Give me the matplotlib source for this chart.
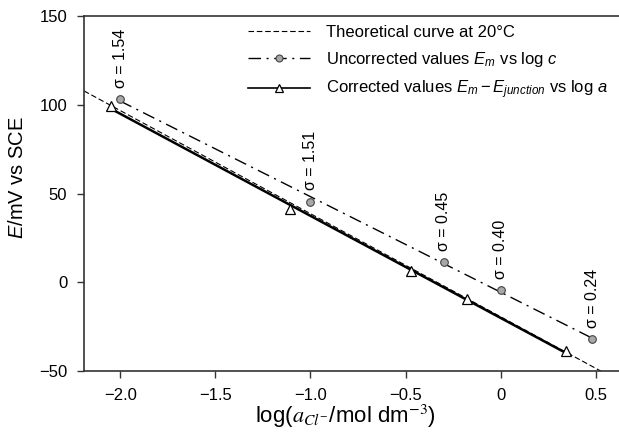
import numpy as np
import matplotlib
matplotlib.use("Agg")
import matplotlib.pyplot as plt
from matplotlib.lines import Line2D

plt.rcParams['font.family'] = ['Liberation Sans', 'DejaVu Sans']
plt.rcParams['mathtext.fontset'] = 'custom'
plt.rcParams['mathtext.rm'] = 'Liberation Sans'
plt.rcParams['mathtext.it'] = 'Liberation Sans:italic'

# uncorrected values E_m vs log c
logc = [-2.0, -1.0, -0.30, 0.0, 0.48]
E_unc = [103.5, 45.6, 11.4, -4.5, -31.7]
sigma = ["1.54", "1.51", "0.45", "0.40", "0.24"]

# corrected values E_m - E_junction vs log a
loga = [-2.05, -1.11, -0.47, -0.18, 0.34]
E_cor = [99.6, 41.4, 6.7, -9.6, -38.6]

# theoretical curve at 20 C (end points)
x_th = [-2.19, 0.62]
E_th = [108.0, -55.5]

fig = plt.figure(figsize=(6.19, 4.33), dpi=100)
ax = fig.add_axes([0.1357, 0.143, 0.864, 0.819])
spine_c = '#333333'

ax.plot(x_th, E_th, ls=(0, (5, 2.5)), color='black', lw=0.8)

# straight lines fitted through each series
p1 = np.polyfit(logc, E_unc, 1)
xs1 = np.array([logc[0], logc[-1]])
ax.plot(xs1, np.polyval(p1, xs1), ls=(0, (9, 4, 1.5, 4)), color='black', lw=1.0)
ax.plot(logc, E_unc, 'o', ms=5.5, mfc='#a8a8a8', mec='#444444', mew=0.8)

p2 = np.polyfit(loga, E_cor, 1)
xs2 = np.array([loga[0], loga[-1]])
ax.plot(xs2, np.polyval(p2, xs2), '-', color='black', lw=1.8)
ax.plot(loga, E_cor, '^', ms=7, mfc='white', mec='black', mew=0.9)

for xi, yi, s in zip(logc, E_unc, sigma):
    ax.annotate("σ = " + s, (xi, yi), xytext=(0, 8), textcoords='offset points',
                rotation=90, ha='center', va='bottom', fontsize=11.5)

ax.set_xlim(-2.19, 0.62)
ax.set_ylim(-50, 150)
ax.set_xticks([-2.0, -1.5, -1.0, -0.5, 0, 0.5])
ax.set_xticklabels(["\u22122.0", "\u22121.5", "\u22121.0", "\u22120.5", "0", "0.5"])
ax.set_yticks([-50, 0, 50, 100, 150])
ax.set_yticklabels(["\u221250", "0", "50", "100", "150"])
ax.tick_params(direction='out', length=5, width=1, color=spine_c, labelsize=12, pad=7)
ax.spines['right'].set_visible(False)
for s in ['left', 'bottom', 'top']:
    ax.spines[s].set_color(spine_c)
    ax.spines[s].set_linewidth(1.2)

ax.set_ylabel("$E$/mV vs SCE", fontsize=14.5)
ax.yaxis.set_label_coords(-0.107, 0.545)
ax.set_xlabel("log($a_{Cl^{-}}$/mol dm$^{-3}$)", fontsize=16,
              math_fontfamily='stix')
ax.xaxis.set_label_coords(0.488, -0.09)

handles = [
    Line2D([], [], ls=(0, (5, 2.5)), color='black', lw=0.8),
    Line2D([], [], ls=(0, (9, 4, 1.5, 4)), color='black', lw=1.0, marker='o',
           ms=5, mfc='#a8a8a8', mec='#444444', mew=0.8),
    Line2D([], [], ls='-', color='black', lw=1.2, marker='^', ms=6,
           mfc='white', mec='black', mew=0.9),
]
labels = ["Theoretical curve at 20\u00b0C",
          "Uncorrected values $E_m$ vs log $c$",
          "Corrected values $E_m - E_{junction}$ vs log $a$"]
ax.legend(handles, labels, loc='upper left', bbox_to_anchor=(0.3065, 0.977),
          borderaxespad=0, borderpad=0, frameon=False, fontsize=12,
          handlelength=3.7, handletextpad=1.0, labelspacing=0.6)

fig.savefig("out.png", dpi=100)
